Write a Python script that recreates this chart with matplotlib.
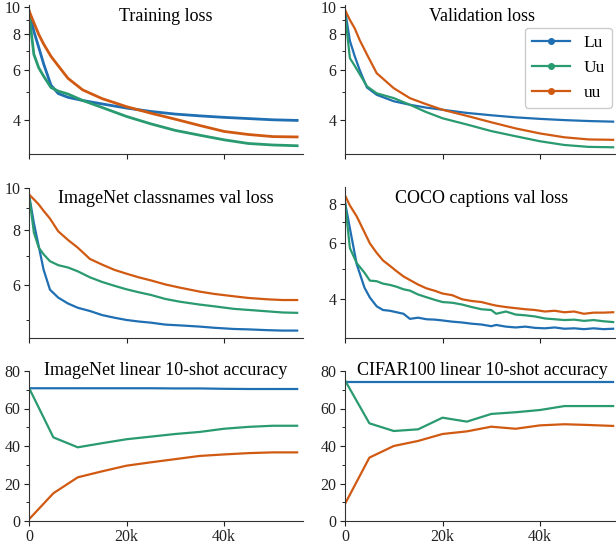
import matplotlib
matplotlib.use("Agg")
import matplotlib.pyplot as plt
from matplotlib.lines import Line2D
from matplotlib.ticker import FixedLocator, FuncFormatter, NullFormatter

plt.rcParams['font.family'] = ['Liberation Serif', 'DejaVu Serif']

# step grids in thousands
k_train = [0, 1, 2, 3, 4.5, 6, 8, 11, 15, 20, 25, 30, 35, 40, 45, 50, 55]
train_Lu = [9.7, 8.2, 7.2, 6.3, 5.3, 4.95, 4.80, 4.68, 4.55, 4.40, 4.28, 4.19, 4.13, 4.08, 4.04, 4.00, 3.98]
train_Uu = [9.5, 6.8, 6.1, 5.7, 5.2, 5.05, 4.93, 4.68, 4.42, 4.11, 3.87, 3.67, 3.53, 3.40, 3.30, 3.26, 3.24]
train_uu = [9.7, 8.8, 8.0, 7.4, 6.7, 6.2, 5.6, 5.1, 4.75, 4.45, 4.22, 4.02, 3.82, 3.64, 3.55, 3.49, 3.48]

k_val = [0, 1, 2, 3, 4.5, 6.5, 10, 13.3, 16.5, 20, 25, 30, 35, 40, 45, 50, 55]
val_Lu = [9.76, 7.6, 6.7, 6.0, 5.2, 4.9, 4.65, 4.52, 4.42, 4.34, 4.23, 4.15, 4.08, 4.03, 3.99, 3.96, 3.94]
val_Uu = [9.5, 6.6, 6.2, 5.8, 5.25, 4.96, 4.77, 4.52, 4.27, 4.05, 3.85, 3.65, 3.50, 3.36, 3.26, 3.21, 3.20]
val_uu = [9.76, 9.0, 8.4, 7.65, 6.8, 5.84, 5.17, 4.77, 4.55, 4.34, 4.13, 3.92, 3.73, 3.58, 3.47, 3.41, 3.40]

k_inc = [0, 1, 2, 3, 4.3, 6, 8, 10, 12.5, 15, 17.5, 20, 22.5, 25, 28, 31, 35, 38, 42, 45, 49, 52, 55]
inc_Lu = [9.64, 8.3, 7.35, 6.5, 5.86, 5.62, 5.45, 5.33, 5.24, 5.13, 5.06, 5.00, 4.96, 4.93, 4.88, 4.86, 4.83, 4.80, 4.77, 4.76, 4.74, 4.73, 4.73]
inc_Uu = [9.64, 7.9, 7.3, 7.05, 6.8, 6.66, 6.58, 6.45, 6.25, 6.10, 5.98, 5.87, 5.78, 5.70, 5.58, 5.50, 5.42, 5.37, 5.30, 5.27, 5.23, 5.20, 5.19]
inc_uu = [9.64, 9.4, 9.15, 8.85, 8.5, 7.95, 7.6, 7.3, 6.88, 6.68, 6.50, 6.37, 6.25, 6.15, 6.02, 5.92, 5.80, 5.73, 5.66, 5.61, 5.57, 5.55, 5.55]

k_coco = [0, 1, 2.4, 4, 5.1, 6.5, 7.8, 9.2, 10.6, 12, 13.3, 15, 16.7, 18.5, 20, 22, 24, 26, 28, 30, 31,
          33, 35, 37, 39, 41, 43, 45, 47, 49, 51, 53, 55]
coco_Lu = [8.1, 6.7, 5.16, 4.35, 4.05, 3.80, 3.70, 3.68, 3.64, 3.60, 3.47, 3.50, 3.46, 3.45, 3.43, 3.40, 3.38,
           3.35, 3.33, 3.29, 3.32, 3.28, 3.26, 3.28, 3.25, 3.24, 3.26, 3.23, 3.24, 3.22, 3.24, 3.22, 3.23]
coco_Uu = [8.1, 5.8, 5.2, 4.85, 4.58, 4.56, 4.48, 4.44, 4.38, 4.30, 4.26, 4.14, 4.06, 3.98, 3.92, 3.90, 3.85,
           3.78, 3.72, 3.70, 3.60, 3.66, 3.58, 3.56, 3.53, 3.48, 3.46, 3.44, 3.45, 3.42, 3.44, 3.41, 3.39]
coco_uu = [8.5, 7.9, 7.3, 6.5, 6.0, 5.6, 5.3, 5.1, 4.9, 4.72, 4.60, 4.45, 4.33, 4.25, 4.17, 4.12, 4.00,
           3.95, 3.92, 3.85, 3.82, 3.78, 3.75, 3.72, 3.70, 3.66, 3.68, 3.64, 3.66, 3.60, 3.63, 3.63, 3.64]

k_fs = [0, 5, 10, 15, 20, 25, 30, 35, 40, 45, 50, 55]
inet_Lu = [70.8, 70.8, 70.8, 70.8, 70.8, 70.8, 70.7, 70.7, 70.5, 70.4, 70.4, 70.4]
inet_Uu = [71.0, 44.6, 39.3, 41.5, 43.6, 45.0, 46.4, 47.5, 49.2, 50.2, 50.8, 50.8]
inet_uu = [0.9, 14.8, 23.3, 26.5, 29.5, 31.3, 33.0, 34.7, 35.5, 36.2, 36.6, 36.6]

cifar_Lu = [74.0, 74.0, 74.0, 74.0, 74.0, 74.0, 74.0, 74.0, 74.0, 74.0, 74.0, 74.0]
cifar_Uu = [75.0, 52.1, 48.0, 48.9, 55.1, 53.0, 57.1, 58.0, 59.2, 61.3, 61.3, 61.3]
cifar_uu = [9.1, 33.8, 40.0, 42.7, 46.4, 47.8, 50.3, 49.2, 51.0, 51.6, 51.2, 50.7]

names = ['Lu', 'Uu', 'uu']
colors = ['#1f6fb2', '#2a9a70', '#d15a13']

panels = [
    ("Training loss", k_train, [train_Lu, train_Uu, train_uu], 'log', (3.03, 10.16), [4, 6, 8, 10], [5, 7, 9], 2.0),
    ("Validation loss", k_val, [val_Lu, val_Uu, val_uu], 'log', (3.03, 10.16), [4, 6, 8, 10], [5, 7, 9], 1.6),
    ("ImageNet classnames val loss", k_inc, [inc_Lu, inc_Uu, inc_uu], 'log', (4.55, 10.0), [6, 8, 10], [5, 7, 9], 1.6),
    ("COCO captions val loss", k_coco, [coco_Lu, coco_Uu, coco_uu], 'log', (3.02, 9.0), [4, 6, 8], [5, 7], 1.6),
    ("ImageNet linear 10-shot accuracy", k_fs, [inet_Lu, inet_Uu, inet_uu], 'linear', (0, 80), [0, 20, 40, 60, 80], [10, 30, 50, 70], 1.6),
    ("CIFAR100 linear 10-shot accuracy", k_fs, [cifar_Lu, cifar_Uu, cifar_uu], 'linear', (0, 80), [0, 20, 40, 60, 80], [10, 30, 50, 70], 1.6),
]

fig = plt.figure(figsize=(6.16, 5.46), dpi=100)
W, H = 616, 546
col_left = [29, 345]
ax_w = 274
rows = [(5, 154), (187.5, 338), (371, 521)]
title_y = [0.895, 0.895, 0.973]

for i, (title, k, series, scale, ylim, major, minor, lw) in enumerate(panels):
    r, c = divmod(i, 2)
    top, bot = rows[r]
    ax = fig.add_axes([col_left[c] / W, 1 - bot / H, ax_w / W, (bot - top) / H])
    steps = [v * 1000 for v in k]
    for name, col, ys in zip(names, colors, series):
        ax.plot(steps, ys, color=col, lw=lw, label=name)
    ax.set_yscale(scale)
    ax.set_ylim(*ylim)
    ax.set_xlim(0, 56200)
    ax.yaxis.set_major_locator(FixedLocator(major))
    ax.yaxis.set_minor_locator(FixedLocator(minor))
    ax.yaxis.set_major_formatter(FuncFormatter(lambda v, p: f"{v:g}"))
    ax.yaxis.set_minor_formatter(NullFormatter())
    ax.xaxis.set_major_locator(FixedLocator([0, 20000, 40000]))
    ax.xaxis.set_minor_locator(FixedLocator([]))
    if r == 2:
        ax.xaxis.set_major_formatter(FuncFormatter(lambda v, p: "0" if v == 0 else f"{v / 1000:g}k"))
    else:
        ax.xaxis.set_major_formatter(NullFormatter())
    ax.tick_params(labelsize=11.5, colors='#222222', pad=2.5)
    for s in ['top', 'right']:
        ax.spines[s].set_visible(False)
    for s in ['left', 'bottom']:
        ax.spines[s].set_color('#333333')
    ax.text(0.5, title_y[r], title, transform=ax.transAxes, ha='center', va='baseline', fontsize=13)
    if i == 1:
        handles = [Line2D([0], [0], color=col, lw=1.6, marker='o', markersize=4) for col in colors]
        ax.legend(handles, names, loc='upper right', bbox_to_anchor=(0.974, 0.846), borderaxespad=0,
                  fontsize=12.5, handlelength=2.2, framealpha=1)

fig.savefig("out.png", dpi=100)
